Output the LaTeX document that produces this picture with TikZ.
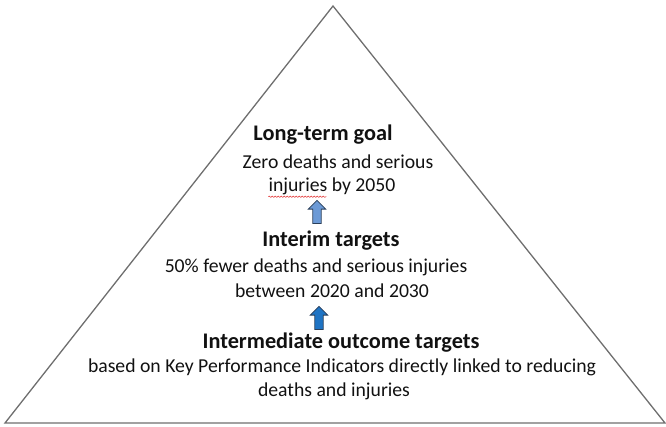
\documentclass[tikz,border=0pt]{standalone}
\usepackage{fontspec}
\setmainfont{Carlito}
\usetikzlibrary{positioning, shapes.arrows, decorations.pathmorphing}
\definecolor{Edge}{HTML}{6E6E6E}
\definecolor{Ink}{HTML}{111111}
\definecolor{PaleBlue}{HTML}{6C9AD6}
\definecolor{DeepBlue}{HTML}{1F74C4}
\definecolor{ArrowLine}{HTML}{2A3F5A}
\definecolor{Squiggle}{HTML}{E03030}
\tikzset{
    headtext/.style={text=Ink, align=center, inner sep=0pt, font=\bfseries\fontsize{22.3}{26}\selectfont},
    bodytext/.style={text=Ink, align=center, inner sep=0pt, font=\fontsize{19.7}{24}\selectfont},
    uparrow/.style={single arrow, draw=ArrowLine, line width=0.8pt, shape border rotate=90,
        minimum height=23pt, single arrow head extend=4.5pt, inner sep=3.8pt},
    pyramid/.style={draw=Edge, line width=1.3pt, line join=miter},
}
\begin{document}
\begin{tikzpicture}[x=1pt, y=-1pt]
    \useasboundingbox (0,0) rectangle (666,426);
    \coordinate (apex) at (333,6);
    \coordinate (baseL) at (5,423);
    \coordinate (baseR) at (665,423);
    \draw[pyramid] (apex) -- (baseL) -- (baseR) -- cycle;

    % top tier
    \node[headtext] (goal) at (323,135) {Long-term goal};
    \node[bodytext] (goalA) at (338,162) {Zero deaths and serious};
    \node[bodytext] (goalB) at (332,186) {injuries by 2050};
    \draw[Squiggle, line width=0.5pt, decorate, decoration={snake, amplitude=0.7pt, segment length=3pt}]
        ([xshift=0pt, yshift=-2pt]goalB.south west) -- ++(58,0);

    % middle tier
    \node[uparrow, fill=PaleBlue] (upA) at (317,214) {};
    \node[headtext] (interim) at (331,241) {Interim targets};
    \node[bodytext] (interimA) at (316,267) {50\% fewer deaths and serious injuries};
    \node[bodytext] (interimB) at (332,291) {between 2020 and 2030};

    % bottom tier
    \node[uparrow, fill=DeepBlue] (upB) at (319,320) {};
    \node[headtext] (inter) at (341,343) {Intermediate outcome targets};
    \node[bodytext] (interA) at (342,367) {based on Key Performance Indicators directly linked to reducing};
    \node[bodytext] (interB) at (334,391) {deaths and injuries};
\end{tikzpicture}
\end{document}
